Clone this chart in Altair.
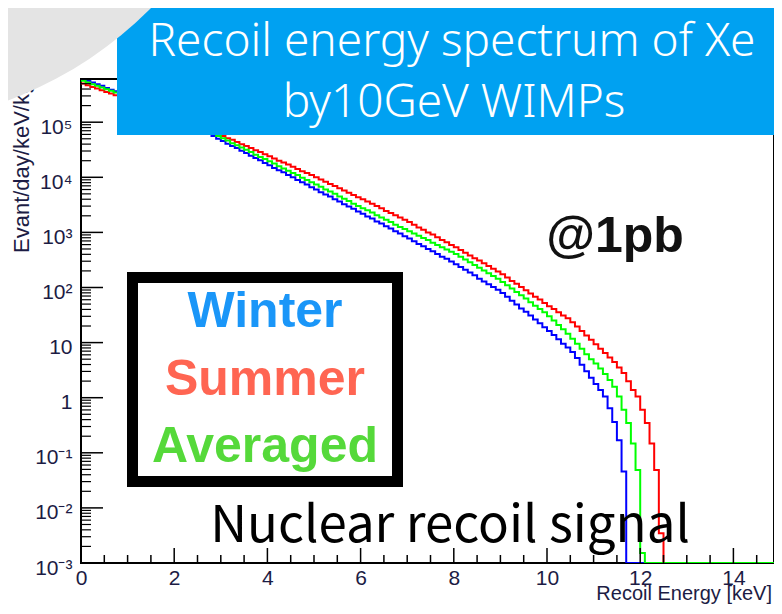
import altair as alt
import pandas as pd

# ---------------- data (log10 of events/day/keV/kg per 0.1 keV bin) -------------
BIN_WIDTH = 0.1
E_MAX = 15.0
FLOOR = 1e-3
Y_TOP = 6.08e5

winter_log10 = [
    5.78, 5.75, 5.72, 5.69, 5.66, 5.62, 5.59, 5.56, 5.53, 5.50,
    5.46, 5.43, 5.39, 5.35, 5.32, 5.28, 5.25, 5.21, 5.17, 5.14,
    5.10, 5.05, 5.01, 4.97, 4.92, 4.88, 4.83, 4.79, 4.75, 4.70,
    4.66, 4.61, 4.57, 4.53, 4.48, 4.44, 4.39, 4.35, 4.31, 4.26,
    4.22, 4.17, 4.13, 4.09, 4.04, 4.00, 3.95, 3.91, 3.87, 3.82,
    3.78, 3.73, 3.69, 3.65, 3.60, 3.56, 3.51, 3.47, 3.43, 3.38,
    3.34, 3.29, 3.25, 3.20, 3.16, 3.11, 3.07, 3.02, 2.98, 2.93,
    2.89, 2.84, 2.79, 2.75, 2.70, 2.66, 2.61, 2.56, 2.52, 2.47,
    2.42, 2.37, 2.32, 2.27, 2.22, 2.16, 2.11, 2.06, 2.01, 1.96,
    1.90, 1.83, 1.76, 1.69, 1.62, 1.56, 1.49, 1.42, 1.35, 1.28,
    1.21, 1.14, 1.06, 0.98, 0.91, 0.83, 0.72, 0.60, 0.48, 0.36,
    0.25, 0.14, 0.02, -0.19, -0.44, -0.77, -1.34,
]

summer_log10 = [
    5.70, 5.67, 5.64, 5.61, 5.58, 5.55, 5.52, 5.49, 5.46, 5.43,
    5.40, 5.37, 5.34, 5.31, 5.28, 5.25, 5.22, 5.19, 5.15, 5.12,
    5.09, 5.06, 5.02, 4.99, 4.96, 4.92, 4.89, 4.86, 4.82, 4.79,
    4.75, 4.71, 4.68, 4.64, 4.60, 4.57, 4.53, 4.49, 4.46, 4.42,
    4.38, 4.34, 4.30, 4.27, 4.23, 4.19, 4.15, 4.11, 4.08, 4.04,
    4.00, 3.96, 3.92, 3.88, 3.84, 3.80, 3.76, 3.72, 3.68, 3.64,
    3.60, 3.56, 3.52, 3.48, 3.44, 3.39, 3.35, 3.31, 3.27, 3.23,
    3.19, 3.14, 3.09, 3.05, 3.00, 2.96, 2.91, 2.86, 2.82, 2.77,
    2.73, 2.68, 2.63, 2.58, 2.53, 2.49, 2.44, 2.39, 2.34, 2.29,
    2.24, 2.18, 2.12, 2.07, 2.01, 1.95, 1.89, 1.83, 1.78, 1.72,
    1.66, 1.61, 1.55, 1.49, 1.44, 1.37, 1.29, 1.21, 1.13, 1.05,
    0.97, 0.89, 0.81, 0.73, 0.65, 0.55, 0.45, 0.30, 0.14, 0.02,
    -0.22, -0.46, -0.83, -1.31, -2.46,
]

averaged_log10 = [
    5.75, 5.72, 5.69, 5.66, 5.63, 5.60, 5.57, 5.54, 5.51, 5.48,
    5.44, 5.41, 5.37, 5.34, 5.30, 5.27, 5.23, 5.20, 5.16, 5.13,
    5.09, 5.05, 5.01, 4.98, 4.94, 4.90, 4.86, 4.82, 4.79, 4.75,
    4.71, 4.67, 4.62, 4.58, 4.54, 4.50, 4.46, 4.41, 4.37, 4.33,
    4.29, 4.25, 4.20, 4.16, 4.12, 4.08, 4.04, 3.99, 3.95, 3.91,
    3.87, 3.83, 3.78, 3.74, 3.70, 3.65, 3.61, 3.57, 3.52, 3.48,
    3.44, 3.40, 3.36, 3.31, 3.27, 3.23, 3.19, 3.14, 3.10, 3.06,
    3.02, 2.98, 2.94, 2.90, 2.86, 2.81, 2.77, 2.73, 2.69, 2.65,
    2.61, 2.56, 2.51, 2.46, 2.41, 2.36, 2.31, 2.26, 2.21, 2.16,
    2.10, 2.04, 1.98, 1.92, 1.86, 1.80, 1.73, 1.67, 1.61, 1.55,
    1.48, 1.40, 1.32, 1.24, 1.16, 1.07, 0.98, 0.89, 0.79, 0.70,
    0.62, 0.53, 0.43, 0.32, 0.20, 0.02, -0.22, -0.46, -0.83, -1.31,
    -2.82,
]

x_major_ticks = [0, 2, 4, 6, 8, 10, 12, 14]
x_minor_ticks = [0.5, 1, 1.5, 2.5, 3, 3.5, 4.5, 5, 5.5, 6.5, 7, 7.5, 8.5, 9, 9.5,
                 10.5, 11, 11.5, 12.5, 13, 13.5, 14.5]
y_major_ticks = [1e-3, 1e-2, 1e-1, 1, 10, 1e2, 1e3, 1e4, 1e5]
y_tick_labels = ["10⁻³", "10⁻²", "10⁻¹", "1", "10", "10²", "10³", "10⁴", "10⁵"]
y_minor_ticks = [m * d for d in y_major_ticks for m in range(2, 10) if m * d <= Y_TOP]

series_names = ["Winter", "Summer", "Averaged"]
line_colors = {"Winter": "#0000ff", "Summer": "#ff0000", "Averaged": "#00ff00"}
legend_colors = {"Winter": "#1a96f8", "Summer": "#ff6552", "Averaged": "#55d93a"}

# ---------------- layout (plot area origin at page (81, 79); 15 keV at page x 780) ----------------
W, H = 693, 484          # visible view (clipped by page width)
X_RANGE = 699            # pixel length of 0..15 keV
LABEL_COLOR = "#1c1c44"
TICK_FONT = "Liberation Sans"


def step_table(name, logs):
    rows = []
    for i, lv in enumerate(logs):
        rows.append({"E": round(i * BIN_WIDTH, 3), "rate": 10 ** lv, "series": name})
    rows.append({"E": round(len(logs) * BIN_WIDTH, 3), "rate": FLOOR, "series": name})
    rows.append({"E": E_MAX, "rate": FLOOR, "series": name})
    return pd.DataFrame(rows)


xs = alt.Scale(domain=[0, E_MAX], range=[0, X_RANGE], nice=False, zero=False)
ys = alt.Scale(type="log", domain=[FLOOR, Y_TOP], nice=False)

label_expr = ""
for v, lab in zip(y_major_ticks, y_tick_labels):
    label_expr += f"datum.value < {v * 3} ? '{lab}' : "
label_expr += "''"

x_axis = alt.Axis(values=x_major_ticks, ticks=False, tickSize=0, domain=False, grid=False,
                  title=None, labelFont=TICK_FONT, labelFontSize=21, labelColor=LABEL_COLOR,
                  labelPadding=4, labelFlush=False, labelOverlap=False, format="d")
y_axis = alt.Axis(values=y_major_ticks, ticks=False, tickSize=0, domain=False, grid=False,
                  title=None, labelFont=TICK_FONT, labelFontSize=21, labelColor=LABEL_COLOR,
                  labelPadding=9, labelOffset=5, labelExpr=label_expr, labelFlush=False,
                  labelOverlap=False, labelBound=False)

X_ENC = alt.X("E:Q", scale=xs, axis=x_axis)
Y_ENC = alt.Y("rate:Q", scale=ys, axis=y_axis)

layers = []
for name in ["Winter", "Summer", "Averaged"]:
    data = {"Winter": winter_log10, "Summer": summer_log10, "Averaged": averaged_log10}[name]
    layers.append(
        alt.Chart(step_table(name, data))
        .mark_line(interpolate="step-after", color=line_colors[name], strokeWidth=2, clip=True)
        .encode(x=X_ENC, y=Y_ENC)
    )

# inward ticks
tick_color = "#000000"
layers.append(alt.Chart(pd.DataFrame({"E": x_major_ticks})).mark_rule(color=tick_color, strokeWidth=1.5)
              .encode(x=X_ENC, y=alt.value(H), y2=alt.value(H - 15)))
layers.append(alt.Chart(pd.DataFrame({"E": x_minor_ticks})).mark_rule(color=tick_color, strokeWidth=1.5)
              .encode(x=X_ENC, y=alt.value(H), y2=alt.value(H - 8)))
layers.append(alt.Chart(pd.DataFrame({"rate": y_major_ticks})).mark_rule(color=tick_color, strokeWidth=1.5)
              .encode(y=Y_ENC, x=alt.value(0), x2=alt.value(22)))
layers.append(alt.Chart(pd.DataFrame({"rate": y_minor_ticks})).mark_rule(color=tick_color, strokeWidth=1.2)
              .encode(y=Y_ENC, x=alt.value(0), x2=alt.value(10)))


def text_layer(txt, x, y, size, color, font, weight="normal", align="center", angle=0, baseline="middle"):
    kw = dict(fontSize=size, color=color, font=font, fontWeight=weight, align=align, baseline=baseline)
    if angle:
        kw["angle"] = angle
    return (alt.Chart(pd.DataFrame({"t": [txt]})).mark_text(**kw)
            .encode(x=alt.value(x), y=alt.value(y), text="t:N"))


def rect_layer(x, x2, y, y2, fill, stroke=None, sw=0):
    kw = dict(fill=fill)
    if stroke:
        kw.update(stroke=stroke, strokeWidth=sw)
    return (alt.Chart(pd.DataFrame({"a": [0]})).mark_rect(**kw)
            .encode(x=alt.value(x), x2=alt.value(x2), y=alt.value(y), y2=alt.value(y2)))


# axis titles
layers.append(text_layer("Recoil Energy [keV]", 691, 521, 20, LABEL_COLOR, TICK_FONT, align="right",
                         baseline="alphabetic"))
layers.append(text_layer("Evant/day/keV/kg", -59, 174, 22, LABEL_COLOR, TICK_FONT, align="left", angle=270))

# title banner
layers.append(rect_layer(36, 705, -80, 56, "#00a1f1"))
layers.append(text_layer("Recoil energy spectrum of Xe", 371, -37, 46, "#ffffff", "Noto Sans", weight=300))
layers.append(text_layer("by10GeV WIMPs", 373, 24, 46, "#ffffff", "Noto Sans", weight=300))

# @1pb
layers.append(text_layer("@1pb", 534, 158, 50, "#111111", "Liberation Sans", weight="bold"))

# legend box
layers.append(rect_layer(51.5, 316.5, 198.5, 402.5, "#ffffff", stroke="#000000", sw=11))
for name, yy in zip(series_names, [233, 301, 368]):
    layers.append(text_layer(name, 184, yy, 50, legend_colors[name], "Liberation Sans", weight="bold"))

# annotation
layers.append(text_layer("Nuclear recoil signal", 369, 448, 51, "#000000", "Noto Sans CJK JP"))

# grey page corner
layers.append(alt.Chart(pd.DataFrame({"a": [0]})).mark_circle(size=625000, color="#e4e4e4", opacity=1)
              .encode(x=alt.value(-211), y=alt.value(-349)))

chart = (
    alt.layer(*layers)
    .properties(width=W, height=H, background="#ffffff",
                padding={"left": 73, "top": 71, "right": 0, "bottom": 43},
                autosize=alt.AutoSizeParams(type="none"))
    .configure_view(stroke="#000000", strokeWidth=2)
)

chart.save("out.html", embed_options={"renderer": "svg", "actions": False})
